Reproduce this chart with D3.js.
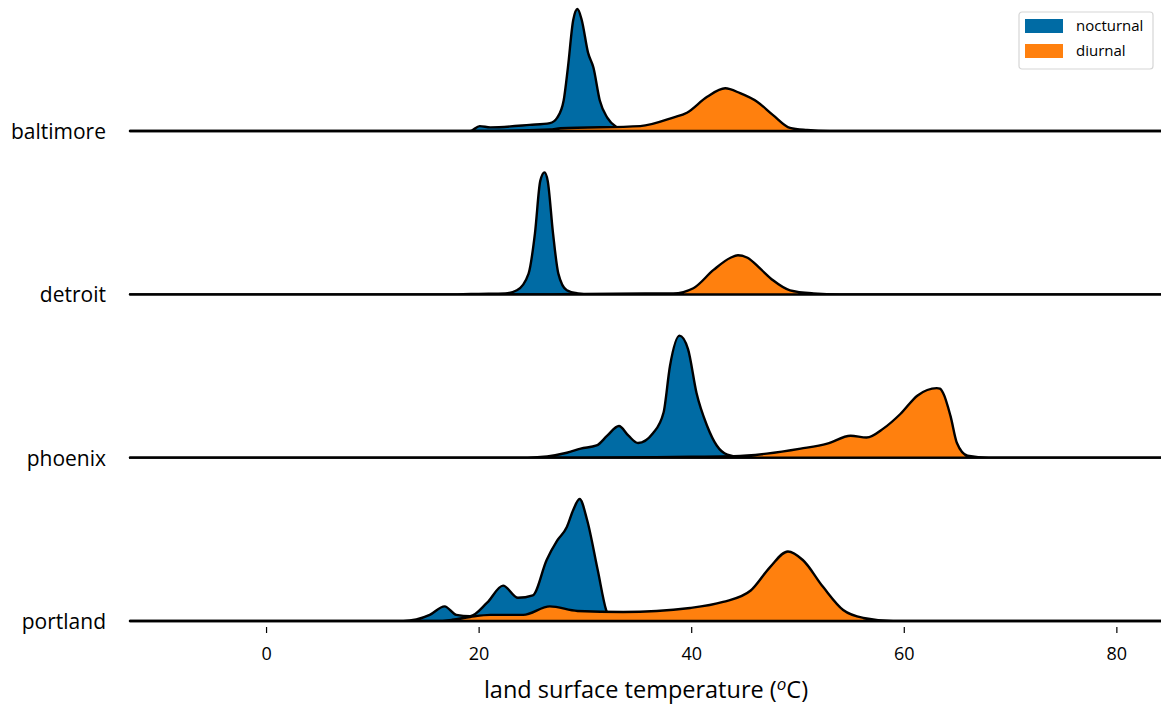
<!DOCTYPE html>
<html>
<head>
<meta charset="utf-8">
<script src="https://cdn.jsdelivr.net/npm/d3@7"></script>
<style>
  html, body { margin: 0; padding: 0; background: #fff; }
  svg { display: block; }
  text { font-family: "Open Sans", "Lato", sans-serif; fill: #000; }
</style>
</head>
<body>
<svg id="chart" width="1161" height="708"></svg>
<script>
// Cities, top to bottom
const cities = ["baltimore", "detroit", "phoenix", "portland"];
const seriesNames = ["nocturnal", "diurnal"];
const seriesColors = ["#006BA4", "#FF800E"];
const xTicks = [0, 20, 40, 60, 80];

// Relative density (each ridge scaled to its own maximum), as [temperature °C, density]
const baltimoreNocturnal = [[19.2,0],[20.1,0.04],[21.1,0.03],[24.8,0.05],[26.7,0.065],[27.4,0.11],[28,0.25],[28.4,0.52],[28.9,0.91],[29.3,1.0],[29.7,0.91],[30.3,0.64],[30.8,0.52],[31.4,0.25],[32.1,0.11],[33,0.03],[34,0]];
const baltimoreDiurnal = [[20,0],[26.7,0.012],[27.7,0.022],[35.2,0.04],[38.3,0.11],[39.6,0.15],[41.5,0.28],[43.2,0.35],[44.6,0.31],[46.2,0.24],[47.7,0.13],[49.3,0.025],[50.9,0.008],[53,0]];

const detroitNocturnal = [[18,0],[20,0.004],[22.5,0.008],[23.6,0.033],[24.7,0.17],[25.3,0.5],[25.8,0.93],[26.2,1.0],[26.5,0.93],[27,0.5],[27.5,0.17],[28.3,0.033],[29.3,0.008],[30.5,0]];
const detroitDiurnal = [[27,0],[30,0.004],[38.3,0.008],[40.2,0.05],[42.1,0.2],[43.7,0.3],[44.4,0.32],[45.3,0.3],[46.5,0.21],[47.7,0.115],[49.3,0.033],[51.5,0.008],[54,0]];

const phoenixNocturnal = [[24.6,0],[28.3,0.04],[29.6,0.074],[31.1,0.1],[32.1,0.18],[33.2,0.26],[34.1,0.18],[35,0.12],[36.4,0.2],[37.4,0.37],[38,0.75],[38.9,1.0],[39.7,0.89],[40.5,0.53],[41.5,0.26],[42.4,0.1],[43.4,0.025],[45,0]];
const phoenixDiurnal = [[30,0],[40,0.008],[44,0.012],[47.1,0.033],[50.3,0.074],[52.8,0.115],[55,0.18],[56.5,0.165],[58.1,0.24],[59.7,0.36],[61.3,0.51],[63.1,0.57],[63.4,0.565],[63.7,0.53],[64.4,0.34],[65,0.12],[66,0.016],[68,0]];

const portlandNocturnal = [[12.9,0],[15.4,0.05],[16.8,0.12],[17.9,0.05],[19.2,0.04],[20.8,0.15],[22.3,0.29],[23.7,0.19],[25.1,0.21],[26.4,0.5],[27.4,0.66],[28.3,0.77],[28.9,0.91],[29.5,1.0],[30.2,0.83],[31.2,0.42],[32,0.09],[32.6,0]];
const portlandDiurnal = [[16,0],[17.5,0.01],[19.2,0.033],[21.1,0.05],[24.2,0.05],[26.7,0.12],[29.3,0.082],[33.6,0.074],[39.9,0.107],[43,0.156],[45.6,0.25],[47.4,0.44],[49.1,0.57],[50.5,0.5],[52.4,0.28],[54.3,0.09],[56.2,0.025],[59,0]];

const densities = {
  baltimore: [baltimoreNocturnal, baltimoreDiurnal],
  detroit: [detroitNocturnal, detroitDiurnal],
  phoenix: [phoenixNocturnal, phoenixDiurnal],
  portland: [portlandNocturnal, portlandDiurnal]
};

const xDomain = [-12.8, 84.2];

const svg = d3.select("#chart");
const plotLeft = 130, plotRight = 1161;

const x = d3.scaleLinear().domain(xDomain).range([plotLeft, plotRight]);

// Baseline position for each ridge
const rowBase = d3.scalePoint().domain(cities).range([131, 621]);
const ridgeHeight = 122;
const y = d3.scaleLinear().domain([0, 1]).range([0, ridgeHeight]);

const area = d3.area()
  .curve(d3.curveMonotoneX)
  .x(d => x(d[0]))
  .y1(d => -y(d[1]))
  .y0(0);

// Pad each curve with zeros out to the full x range so the baseline spans the plot
function padded(pts) {
  const out = [];
  if (pts[0][0] > xDomain[0]) out.push([xDomain[0], 0]);
  pts.forEach(p => out.push(p));
  if (pts[pts.length - 1][0] < xDomain[1]) out.push([xDomain[1], 0]);
  return out;
}

cities.forEach(city => {
  const g = svg.append("g").attr("transform", `translate(0,${rowBase(city)})`);
  densities[city].forEach((pts, i) => {
    g.append("path")
      .datum(padded(pts))
      .attr("d", area)
      .attr("fill", seriesColors[i])
      .attr("stroke", "#000")
      .attr("stroke-width", 2.4)
      .attr("stroke-linejoin", "round");
  });
  svg.append("text")
    .attr("x", 106)
    .attr("y", rowBase(city) + 8)
    .attr("text-anchor", "end")
    .attr("font-size", 21)
    .text(city);
});

// x axis: short ticks and labels, no domain line
const axisY = 627;
const axis = d3.axisBottom(x).tickValues(xTicks).tickSize(6).tickPadding(14).tickFormat(d3.format("d"));
const ax = svg.append("g").attr("transform", `translate(0,${axisY})`).call(axis);
ax.select(".domain").remove();
ax.selectAll(".tick line").attr("stroke", "#000").attr("stroke-width", 1.2);
ax.selectAll(".tick text")
  .style("font-family", '"Open Sans", "Lato", sans-serif')
  .attr("font-size", 18)
  .attr("fill", "#000");

// axis title with superscript degree symbol
const title = svg.append("text")
  .attr("x", 646)
  .attr("y", 698)
  .attr("text-anchor", "middle")
  .attr("font-size", 23.5);
title.append("tspan").text("land surface temperature (");
title.append("tspan").attr("dy", -8).attr("font-size", 17).attr("font-style", "italic").text("o");
title.append("tspan").attr("dy", 8).text("C)");

// legend
const lg = svg.append("g").attr("transform", "translate(1019,12)");
lg.append("rect")
  .attr("width", 134).attr("height", 57)
  .attr("rx", 3)
  .attr("fill", "#fff")
  .attr("stroke", "#d6d6d6")
  .attr("stroke-width", 1.2);
seriesNames.forEach((name, i) => {
  lg.append("rect")
    .attr("x", 6).attr("y", 7 + i * 25)
    .attr("width", 38).attr("height", 14)
    .attr("fill", seriesColors[i]);
  lg.append("text")
    .attr("x", 57).attr("y", 19 + i * 25)
    .attr("font-size", 15)
    .text(name);
});
</script>
</body>
</html>
